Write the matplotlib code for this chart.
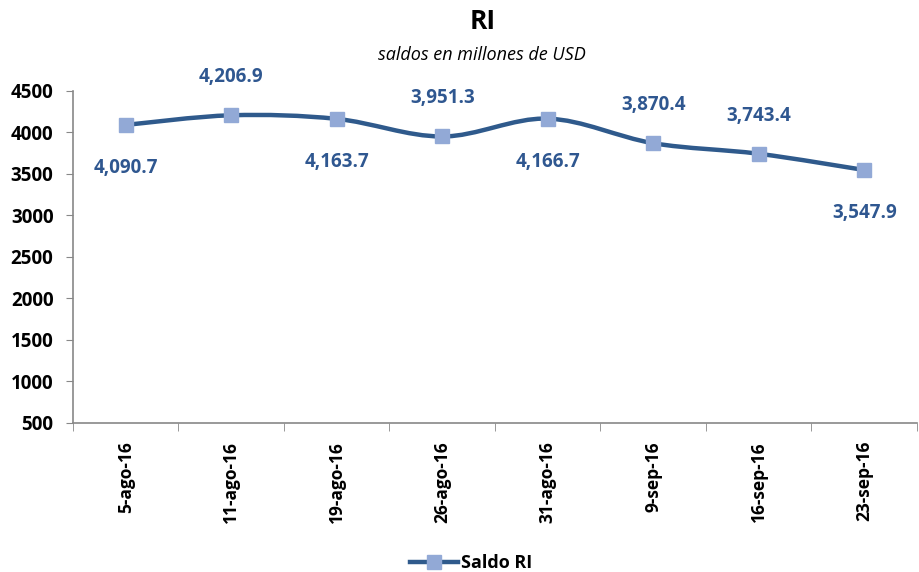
import matplotlib
matplotlib.use("Agg")
import matplotlib.pyplot as plt
import numpy as np
from matplotlib.path import Path
from matplotlib.patches import PathPatch
from matplotlib.lines import Line2D

categories = ["5-ago-16", "11-ago-16", "19-ago-16", "26-ago-16",
              "31-ago-16", "9-sep-16", "16-sep-16", "23-sep-16"]
values = [4090.7, 4206.9, 4163.7, 3951.3, 4166.7, 3870.4, 3743.4, 3547.9]
label_above = [False, True, False, True, False, True, True, False]
yticks = [500, 1000, 1500, 2000, 2500, 3000, 3500, 4000, 4500]

plt.rcParams['font.family'] = ['Open Sans', 'DejaVu Sans']
line_color = "#2F5A8C"
marker_color = "#92A9D6"
label_color = "#2F5790"

fig = plt.figure(figsize=(9.2, 5.72), dpi=100)
ax = fig.add_axes([0.0793, 0.2605, 0.9174, 0.5805])

x = np.arange(len(values), dtype=float)
y = np.array(values)

# Smoothed line (Catmull-Rom style Bezier through the data points)
verts = [(x[0], y[0])]
codes = [Path.MOVETO]
n = len(x)
for i in range(n - 1):
    p0 = (x[i - 1], y[i - 1]) if i > 0 else (x[i], y[i])
    p1 = (x[i], y[i])
    p2 = (x[i + 1], y[i + 1])
    p3 = (x[i + 2], y[i + 2]) if i + 2 < n else (x[i + 1], y[i + 1])
    t = 1 / 6
    c1 = (p1[0] + (p2[0] - p0[0]) * t, p1[1] + (p2[1] - p0[1]) * t)
    c2 = (p2[0] - (p3[0] - p1[0]) * t, p2[1] - (p3[1] - p1[1]) * t)
    verts += [c1, c2, p2]
    codes += [Path.CURVE4] * 3
patch = PathPatch(Path(verts, codes), facecolor='none', edgecolor=line_color,
                  lw=3.2, zorder=2, capstyle='round', joinstyle='round')
ax.add_patch(patch)
ax.plot(x, y, linestyle='none', marker='s', markersize=9.5,
        markerfacecolor=marker_color, markeredgecolor=marker_color, zorder=3)

for xi, yi, up in zip(x, y, label_above):
    off = 27.5 if up else -31
    ax.annotate(f"{yi:,.1f}", (xi, yi), xytext=(0, off), textcoords='offset points',
                ha='center', va='center', fontsize=13.5, fontweight='bold',
                color=label_color)

ax.set_xlim(-0.5, n - 0.5)
ax.set_ylim(500, 4500)
ax.set_yticks(yticks)
ax.set_yticklabels([str(v) for v in yticks], fontsize=13.5, fontweight='bold')
ax.set_xticks(x)
ax.set_xticklabels(categories, rotation=90, fontsize=12.5, fontweight='bold')
ax.set_xticks(np.arange(-0.5, n, 1.0), minor=True)
ax.tick_params(axis='x', which='major', length=0, pad=13)
ax.tick_params(axis='x', which='minor', length=6, color='#888888', direction='out')
ax.tick_params(axis='y', length=5, color='#888888', direction='out', pad=9)

for s in ['top', 'right']:
    ax.spines[s].set_visible(False)
for s in ['left', 'bottom']:
    ax.spines[s].set_color('#888888')
    ax.spines[s].set_linewidth(1.2)

fig.text(0.525, 0.962, "RI", ha='center', va='center', fontsize=19, fontweight='bold')
fig.text(0.524, 0.904, "saldos en millones de USD", ha='center', va='center',
         fontsize=13, style='italic')

handle = Line2D([], [], color=line_color, lw=3.2, marker='s', markersize=9.5,
                markerfacecolor=marker_color, markeredgecolor=marker_color)
fig.legend([handle], ["Saldo RI"], loc='center', bbox_to_anchor=(0.512, 0.015),
           frameon=False, prop={'weight': 'bold', 'size': 13},
           handlelength=2.7, handletextpad=0.15)

fig.savefig("out.png", dpi=100)
